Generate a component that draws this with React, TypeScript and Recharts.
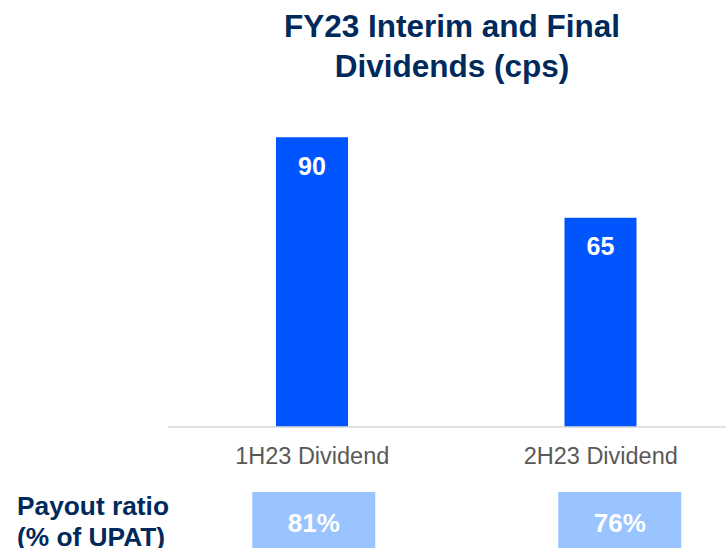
import { BarChart, Bar, XAxis, YAxis, LabelList } from "recharts"

const categories = ["1H23 Dividend", "2H23 Dividend"]
const dividends = [90, 65]
const payoutRatios = ["81%", "76%"]

const data = categories.map((name, i) => ({ name, value: dividends[i], payout: payoutRatios[i] }))

const NAVY = "#002A5C"
const BLUE = "#0055FF"
const LIGHT = "#99C4FF"
const FONT = "'Liberation Sans', Arial, sans-serif"

// payout boxes sit a little off the bar centres in the original
const boxShift = [1.5, 19]

function CategoryTick({ x, y, payload, index }: any) {
  const bx = x + boxShift[index]
  return (
    <g>
      <text x={x} y={y + 37} textAnchor="middle" fill="#595959" fontSize={23.5} fontFamily={FONT}>
        {payload.value}
      </text>
      <rect x={bx - 61.5} y={y + 65} width={123} height={70} fill={LIGHT} />
      <text x={bx} y={y + 105} textAnchor="middle" fill="#fff" fontSize={26} fontWeight="bold" fontFamily={FONT}>
        {data[index].payout}
      </text>
    </g>
  )
}

function ValueLabel({ x, y, width, value }: any) {
  return (
    <text x={x + width / 2} y={y + 37.5} textAnchor="middle" fill="#fff" fontSize={25} fontWeight="bold" fontFamily={FONT}>
      {value}
    </text>
  )
}

export default function App() {
  return (
    <div style={{ position: "relative", width: 726, height: 548, overflow: "hidden", background: "#fff", fontFamily: FONT }}>
      <style>{"body{margin:0}"}</style>
      <BarChart width={745} height={548} data={data} margin={{ top: 105, right: 0, left: 168, bottom: 0 }}>
        <XAxis
          dataKey="name"
          height={121}
          axisLine={{ stroke: "#d9d9d9", strokeWidth: 1.5 }}
          tickLine={false}
          tickSize={0}
          tickMargin={0}
          tick={<CategoryTick />}
          interval={0}
        />
        <YAxis hide domain={[0, 100]} />
        <Bar dataKey="value" fill={BLUE} barSize={72} isAnimationActive={false}>
          <LabelList dataKey="value" content={<ValueLabel />} />
        </Bar>
      </BarChart>
      <div
        style={{
          position: "absolute",
          top: 6,
          left: 180,
          width: 544,
          textAlign: "center",
          fontSize: 31.5,
          lineHeight: "40px",
          fontWeight: "bold",
          color: NAVY,
        }}
      >
        FY23 Interim and Final
        <br />
        Dividends (cps)
      </div>
      <div
        style={{
          position: "absolute",
          top: 491,
          left: 17,
          fontSize: 26.3,
          lineHeight: "31px",
          fontWeight: "bold",
          color: NAVY,
        }}
      >
        Payout ratio
        <br />
        (% of UPAT)
      </div>
    </div>
  )
}
